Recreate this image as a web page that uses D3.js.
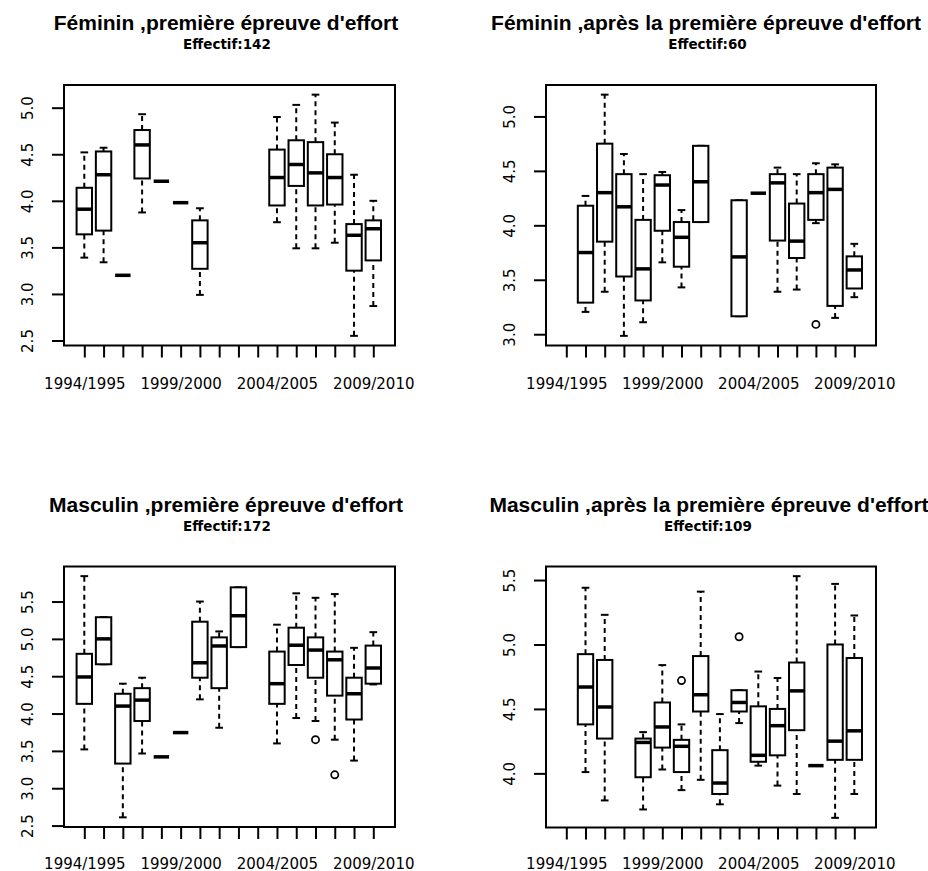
<!DOCTYPE html>
<html><head><meta charset="utf-8">
<script src="https://cdn.jsdelivr.net/npm/d3@7"></script>
<style>body{margin:0;background:#fff}svg{display:block;background:#fff}</style>
</head><body><svg id="c" width="928" height="871"></svg>
<script>
// ---------- data ----------
const seasons = ["1994/1995","1995/1996","1996/1997","1997/1998","1998/1999","1999/2000",
  "2000/2001","2001/2002","2002/2003","2003/2004","2004/2005","2005/2006","2006/2007",
  "2007/2008","2008/2009","2009/2010"];
const shownSeasons = ["1994/1995","1999/2000","2004/2005","2009/2010"];

const titles = ["Féminin ,première épreuve d'effort","Féminin ,après la première épreuve d'effort",
  "Masculin ,première épreuve d'effort","Masculin ,après la première épreuve d'effort"];
const subtitles = ["Effectif:142","Effectif:60","Effectif:172","Effectif:109"];

// [lower whisker, Q1, median, Q3, upper whisker] per season (null = no data)
const femPremStats = [
  [3.39,3.64,3.91,4.14,4.52],[3.34,3.68,4.28,4.53,4.57],[3.20,3.20,3.20,3.20,3.20],
  [3.875,4.24,4.60,4.76,4.93],[4.21,4.21,4.21,4.21,4.21],[3.98,3.98,3.98,3.98,3.98],
  [2.99,3.27,3.55,3.79,3.92],null,null,null,
  [3.77,3.95,4.25,4.55,4.90],[3.49,4.16,4.39,4.65,5.03],[3.49,3.95,4.30,4.63,5.14],
  [3.55,3.96,4.25,4.50,4.84],[2.55,3.25,3.63,3.75,4.28],[2.87,3.36,3.70,3.79,4.00]];
const femPremOut = [];
const femPremTicks = [2.5,3.0,3.5,4.0,4.5,5.0];

const femApresStats = [
  null,[3.205,3.29,3.75,4.18,4.27],[3.39,3.85,4.30,4.75,5.20],
  [2.985,3.53,4.17,4.47,4.655],[3.11,3.31,3.60,4.05,4.47],[3.66,3.95,4.37,4.46,4.49],
  [3.43,3.62,3.89,4.03,4.14],[4.03,4.03,4.40,4.73,4.73],null,
  [3.165,3.165,3.71,4.23,4.23],[4.295,4.295,4.295,4.295,4.295],[3.39,3.86,4.39,4.47,4.53],
  [3.41,3.70,3.855,4.20,4.47],[4.02,4.05,4.30,4.47,4.57],[3.15,3.26,4.33,4.53,4.56],
  [3.34,3.42,3.59,3.715,3.83]];
const femApresOut = [[14,3.09]];
const femApresTicks = [3.0,3.5,4.0,4.5,5.0];

const masPremStats = [
  [3.52,4.13,4.49,4.80,5.84],[4.66,4.66,5.00,5.29,5.29],[2.61,3.33,4.10,4.265,4.40],
  [3.465,3.90,4.18,4.34,4.48],[3.42,3.42,3.42,3.42,3.42],[3.745,3.745,3.745,3.745,3.745],
  [4.19,4.48,4.68,5.23,5.50],[3.81,4.34,4.905,5.02,5.10],[4.89,4.89,5.31,5.69,5.69],null,
  [3.60,4.13,4.40,4.83,5.19],[3.94,4.65,4.915,5.15,5.61],[3.90,4.48,4.85,5.02,5.55],
  [3.65,4.24,4.72,4.83,5.60],[3.37,3.92,4.265,4.48,4.88],[4.39,4.40,4.61,4.91,5.09]];
const masPremOut = [[13,3.65],[14,3.18]];
const masPremTicks = [2.5,3.0,3.5,4.0,4.5,5.0,5.5];

const masApresStats = [
  null,[4.01,4.38,4.67,4.925,5.44],[3.79,4.27,4.515,4.88,5.23],null,
  [3.72,3.97,4.24,4.27,4.32],[4.03,4.20,4.36,4.55,4.84],[3.87,4.01,4.21,4.26,4.38],
  [3.95,4.48,4.61,4.91,5.41],[3.76,3.84,3.925,4.18,4.46],[4.39,4.48,4.55,4.645,4.645],
  [4.06,4.09,4.14,4.52,4.79],[3.905,4.14,4.37,4.50,4.74],[3.84,4.335,4.64,4.86,5.53],
  [4.06,4.06,4.06,4.06,4.06],[3.655,4.105,4.25,5.00,5.47],[3.84,4.105,4.33,4.895,5.225]];
const masApresOut = [[7,4.72],[10,5.06]];
const masApresTicks = [4.0,4.5,5.0,5.5];

// ---------- layout ----------
const panels = [
  {stats:femPremStats, out:femPremOut, ticks:femPremTicks, title:titles[0], sub:subtitles[0], x0:64, x1:395, y0:85, y1:345.5, cx:226, tx:227, lab:43.5},
  {stats:femApresStats, out:femApresOut, ticks:femApresTicks, title:titles[1], sub:subtitles[1], x0:546, x1:876, y0:85, y1:345.5, cx:706, tx:707.5, lab:43.5},
  {stats:masPremStats, out:masPremOut, ticks:masPremTicks, title:titles[2], sub:subtitles[2], x0:64, x1:395, y0:566.5, y1:827, cx:226, tx:227, lab:41.5},
  {stats:masApresStats, out:masApresOut, ticks:masApresTicks, title:titles[3], sub:subtitles[3], x0:546, x1:876, y0:566.5, y1:827.5, cx:709, tx:708, lab:41}
];

const svg = d3.select("#c");
svg.append("rect").attr("width",928).attr("height",871).attr("fill","#fff");

const tickFont = "DejaVu Sans";

panels.forEach(p => {
  const g = svg.append("g");
  const x = d3.scaleLinear().domain([1,16]).range([p.x0+20.3, p.x1-21.7]);
  const vals = p.stats.filter(d => d).flat().concat(p.out.map(d => d[1]));
  const [mn, mx] = d3.extent(vals);
  const pad = (mx - mn) * 0.04;
  const y = d3.scaleLinear().domain([mn - pad, mx + pad]).range([p.y1, p.y0]);
  const bw = 0.8 * (x(2) - x(1));

  // titles
  g.append("text").attr("x", p.cx).attr("y", p.y0 - 55)
    .attr("text-anchor","middle").attr("font-family","Liberation Sans, Arial, sans-serif")
    .attr("font-weight","bold").attr("font-size",21).text(p.title);
  g.append("text").attr("x", p.tx).attr("y", p.y0 - 35.7)
    .attr("text-anchor","middle").attr("font-family","DejaVu Sans, sans-serif")
    .attr("font-weight","bold").attr("font-size",13.5).text(p.sub);

  // boxes
  p.stats.forEach((s, k) => {
    if (!s) return;
    const cxp = x(k + 1);
    const bx = g.append("g").attr("stroke","#000").attr("fill","none");
    bx.append("line").attr("x1",cxp).attr("x2",cxp).attr("y1",y(s[0])).attr("y2",y(s[1]))
      .attr("stroke-width",2).attr("stroke-dasharray","5,4");
    bx.append("line").attr("x1",cxp).attr("x2",cxp).attr("y1",y(s[3])).attr("y2",y(s[4]))
      .attr("stroke-width",2).attr("stroke-dasharray","5,4");
    [s[0], s[4]].forEach(v => {
      bx.append("line").attr("x1",cxp - bw/4).attr("x2",cxp + bw/4).attr("y1",y(v)).attr("y2",y(v))
        .attr("stroke-width",2);
    });
    bx.append("rect").attr("x",cxp - bw/2).attr("width",bw)
      .attr("y",y(s[3])).attr("height",Math.max(0, y(s[1]) - y(s[3])))
      .attr("fill","#fff").attr("stroke-width",2);
    bx.append("line").attr("x1",cxp - bw/2).attr("x2",cxp + bw/2).attr("y1",y(s[2])).attr("y2",y(s[2]))
      .attr("stroke-width",3.5);
  });
  p.out.forEach(o => {
    g.append("circle").attr("cx",x(o[0])).attr("cy",y(o[1])).attr("r",3.6)
      .attr("fill","none").attr("stroke","#000").attr("stroke-width",1.7);
  });

  // frame
  g.append("rect").attr("x",p.x0).attr("y",p.y0).attr("width",p.x1-p.x0).attr("height",p.y1-p.y0)
    .attr("fill","none").attr("stroke","#000").attr("stroke-width",2);

  // axes
  const gx = g.append("g").attr("transform",`translate(0,${p.y1})`)
    .call(d3.axisBottom(x).tickValues(d3.range(1,17)).tickSize(12)
      .tickFormat(i => shownSeasons.includes(seasons[i-1]) ? seasons[i-1] : ""));
  gx.select(".domain").remove();
  gx.selectAll(".tick line").attr("stroke","#000").attr("stroke-width",2);
  gx.selectAll(".tick text").attr("y",p.lab).attr("dy",0).attr("fill","#000")
    .attr("font-family",tickFont).attr("font-size",15);
  gx.attr("font-family",tickFont).attr("font-size",15);

  const gy = g.append("g").attr("transform",`translate(${p.x0},0)`)
    .call(d3.axisLeft(y).tickValues(p.ticks).tickSize(12).tickFormat(d3.format(".1f")));
  gy.select(".domain").remove();
  gy.selectAll(".tick line").attr("stroke","#000").attr("stroke-width",2);
  gy.selectAll(".tick text").attr("x",0).attr("y",-31).attr("dy",0)
    .attr("transform","rotate(-90)").attr("text-anchor","middle").attr("fill","#000")
    .attr("font-family",tickFont).attr("font-size",15);
  gy.attr("font-family",tickFont).attr("font-size",15);
});
</script>
</body></html>
